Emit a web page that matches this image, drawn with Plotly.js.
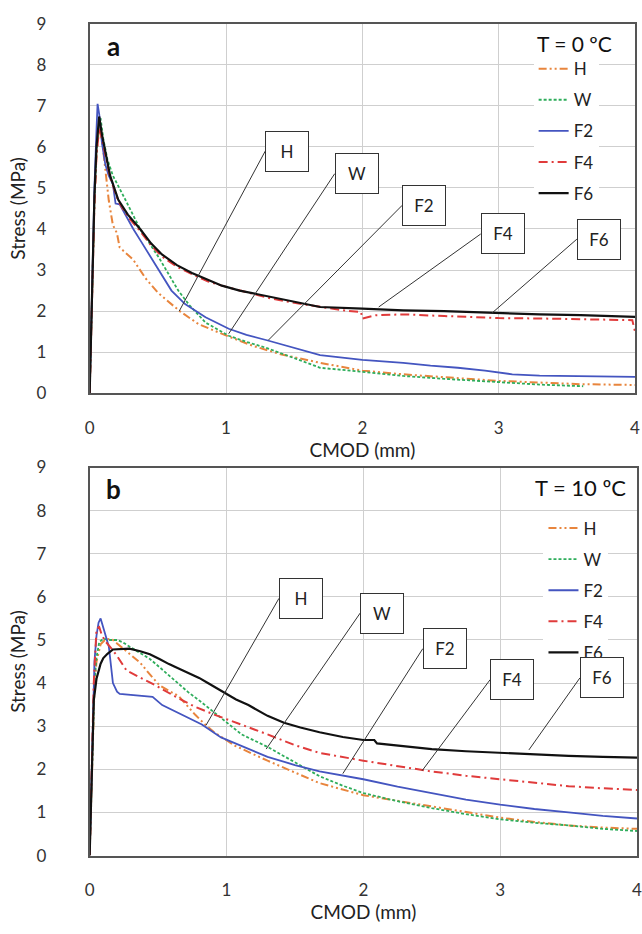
<!DOCTYPE html>
<html>
<head>
<meta charset="utf-8">
<script src="https://cdn.plot.ly/plotly-3.0.1.min.js"></script>
<style>html,body{margin:0;padding:0;background:#fff;}#chart{width:642px;height:934px;}</style>
</head>
<body>
<div id="chart"></div>
<script>
// ---------- Data: panel a (T = 0 ºC) ----------
const aH_x  = [0,0.01,0.02,0.035,0.05,0.07,0.09,0.11,0.12,0.14,0.17,0.2,0.22,0.27,0.32,0.41,0.5,0.66,0.8,1.02,1.2,1.4,1.69,2.0,2.3,2.6,3.0,3.3,3.6,4.0];
const aH_y  = [0,1.5,3.0,4.7,5.8,6.5,6.2,5.6,5.2,4.7,4.1,3.9,3.55,3.4,3.25,2.8,2.45,2.0,1.68,1.38,1.15,0.95,0.74,0.55,0.46,0.39,0.3,0.26,0.22,0.2];
const aW_x  = [0,0.01,0.02,0.035,0.05,0.07,0.08,0.1,0.13,0.17,0.25,0.37,0.51,0.58,0.65,0.73,0.85,1.02,1.15,1.3,1.5,1.69,2.0,2.3,2.6,3.0,3.3,3.62];
const aW_y  = [0,1.5,3.0,4.7,5.9,6.6,6.7,6.2,5.7,5.3,4.79,4.0,3.29,2.9,2.5,2.15,1.72,1.4,1.25,1.1,0.85,0.62,0.52,0.42,0.35,0.26,0.21,0.17];
const aF2_x = [0,0.01,0.02,0.035,0.05,0.058,0.07,0.09,0.115,0.14,0.17,0.19,0.22,0.26,0.32,0.38,0.44,0.53,0.6,0.7,0.85,1.02,1.15,1.3,1.5,1.69,2.0,2.3,2.5,2.7,2.9,3.0,3.1,3.3,3.5,3.8,4.0];
const aF2_y = [0,1.6,3.1,5.0,6.4,7.05,6.8,6.1,5.57,5.3,5.1,4.62,4.6,4.35,4.0,3.68,3.36,2.85,2.5,2.17,1.85,1.57,1.42,1.29,1.1,0.93,0.81,0.74,0.67,0.62,0.55,0.5,0.46,0.43,0.42,0.41,0.4];
const aF4_x = [0,0.01,0.02,0.035,0.05,0.07,0.09,0.115,0.15,0.21,0.28,0.37,0.45,0.53,0.64,0.75,0.87,0.97,1.1,1.3,1.5,1.7,1.9,1.99,2.0,2.1,2.3,2.6,3.0,3.3,3.6,3.9,3.98,4.0];
const aF4_y = [0,1.4,2.9,4.6,5.8,6.45,6.2,5.8,5.25,4.68,4.3,3.95,3.6,3.33,3.08,2.9,2.72,2.62,2.5,2.33,2.2,2.1,2.0,1.98,1.82,1.9,1.92,1.88,1.83,1.82,1.8,1.78,1.78,1.5];
const aF6_x = [0,0.01,0.02,0.035,0.05,0.07,0.09,0.115,0.15,0.21,0.28,0.37,0.45,0.53,0.64,0.75,0.87,0.97,1.1,1.3,1.5,1.69,2.0,2.3,2.6,3.0,3.3,3.6,4.0];
const aF6_y = [0,1.5,3.0,4.8,6.0,6.74,6.3,5.86,5.3,4.71,4.35,4.0,3.65,3.38,3.12,2.93,2.75,2.62,2.5,2.36,2.22,2.1,2.06,2.02,2.0,1.95,1.92,1.9,1.86];

// ---------- Data: panel b (T = 10 ºC) ----------
const bH_x  = [0,0.01,0.02,0.035,0.05,0.08,0.12,0.17,0.2,0.28,0.37,0.44,0.51,0.58,0.65,0.77,0.85,0.91,1.06,1.3,1.5,1.68,2.0,2.25,2.5,2.75,3.0,3.25,3.5,3.75,4.0];
const bH_y  = [0,1.3,2.6,3.9,4.5,4.9,5.03,5.0,4.92,4.7,4.47,4.2,3.95,3.82,3.7,3.27,3.02,2.86,2.55,2.2,1.92,1.68,1.4,1.27,1.15,1.01,0.88,0.78,0.7,0.65,0.62];
const bW_x  = [0,0.01,0.02,0.035,0.05,0.07,0.1,0.15,0.2,0.24,0.29,0.36,0.44,0.51,0.58,0.65,0.72,0.8,0.87,0.99,1.11,1.3,1.5,1.68,1.85,2.0,2.25,2.5,2.75,3.0,3.25,3.5,3.75,4.0];
const bW_y  = [0,1.3,2.6,4.0,4.6,4.95,5.03,5.0,5.0,4.95,4.85,4.72,4.56,4.37,4.17,3.98,3.79,3.6,3.42,3.1,2.81,2.52,2.16,1.84,1.62,1.45,1.26,1.1,0.96,0.84,0.76,0.7,0.62,0.57];
const bF2_x = [0,0.01,0.02,0.035,0.05,0.065,0.08,0.1,0.12,0.14,0.17,0.2,0.22,0.32,0.41,0.46,0.53,0.6,0.68,0.82,0.96,1.1,1.3,1.5,1.68,2.0,2.25,2.5,2.75,3.0,3.25,3.5,3.75,4.0];
const bF2_y = [0,1.5,3.0,4.5,5.1,5.4,5.5,5.3,5.05,4.85,4.0,3.8,3.75,3.72,3.7,3.68,3.49,3.38,3.27,3.04,2.74,2.55,2.29,2.1,1.95,1.77,1.6,1.45,1.3,1.18,1.08,1.0,0.92,0.86];
const bF4_x = [0,0.01,0.02,0.03,0.05,0.07,0.09,0.12,0.16,0.2,0.27,0.37,0.48,0.63,0.77,0.91,1.11,1.3,1.5,1.68,2.0,2.25,2.5,2.75,3.0,3.25,3.5,3.75,4.0];
const bF4_y = [0,1.4,2.8,4.0,5.26,5.3,5.1,4.95,4.8,4.63,4.29,4.13,3.95,3.68,3.45,3.27,3.04,2.81,2.56,2.38,2.2,2.07,1.95,1.85,1.77,1.69,1.61,1.56,1.52];
const bF6_x = [0,0.01,0.02,0.03,0.05,0.08,0.1,0.13,0.17,0.22,0.29,0.37,0.44,0.51,0.58,0.65,0.72,0.8,0.87,0.93,0.99,1.07,1.16,1.3,1.42,1.54,1.68,1.85,2.0,2.08,2.1,2.3,2.5,2.75,3.0,3.25,3.5,3.75,4.0];
const bF6_y = [0,1.2,2.6,3.6,4.1,4.45,4.58,4.68,4.78,4.79,4.8,4.74,4.67,4.56,4.44,4.34,4.24,4.12,3.99,3.88,3.76,3.62,3.49,3.24,3.08,2.97,2.86,2.75,2.68,2.68,2.6,2.53,2.47,2.42,2.38,2.34,2.31,2.29,2.27];

const seriesNames = ["H","W","F2","F4","F6"];
const yTicks = [0,1,2,3,4,5,6,7,8,9];
const xTicks = [0,1,2,3,4];
const panelLabels = ["a","b"];
const tempLabels = ["T = 0 ºC","T = 10 ºC"];
const axisTitleX = "CMOD (mm)";
const axisTitleY = "Stress (MPa)";
// callout tips [x, y] on curves
const aTips = [[0.657,2.0],[1.02,1.45],[1.31,1.29],[2.12,2.1],[2.95,1.95]];
const bTips = [[0.85,3.02],[1.29,2.47],[1.85,1.9],[2.43,1.97],[3.21,2.45]];

// ---------- Styles ----------
const styles = {
  H:  {color:"#E8853D", dash:"8px,3px,2px,3px,2px,3px", width:2},
  W:  {color:"#2EAD5B", dash:"3px,2px", width:1.8},
  F2: {color:"#4455C0", dash:"solid", width:1.8},
  F4: {color:"#E03B3B", dash:"9px,4px,2px,4px", width:2},
  F6: {color:"#111111", dash:"solid", width:2.2}
};
const FONT = "Lato, 'Open Sans', sans-serif";

const aData = {H:[aH_x,aH_y], W:[aW_x,aW_y], F2:[aF2_x,aF2_y], F4:[aF4_x,aF4_y], F6:[aF6_x,aF6_y]};
const bData = {H:[bH_x,bH_y], W:[bW_x,bW_y], F2:[bF2_x,bF2_y], F4:[bF4_x,bF4_y], F6:[bF6_x,bF6_y]};

const traces = [];
seriesNames.forEach(n => {
  traces.push({x:aData[n][0], y:aData[n][1], type:"scatter", mode:"lines", name:n,
    line:{color:styles[n].color, dash:styles[n].dash, width:styles[n].width},
    xaxis:"x", yaxis:"y", legend:"legend", legendgroup:"a"+n});
});
seriesNames.forEach(n => {
  traces.push({x:bData[n][0], y:bData[n][1], type:"scatter", mode:"lines", name:n,
    line:{color:styles[n].color, dash:styles[n].dash, width:styles[n].width},
    xaxis:"x2", yaxis:"y2", legend:"legend2", legendgroup:"b"+n});
});

// callout offsets (pixels from tip to box left-middle)
const aOff = [[86,-160],[106,-160],[134,-135],[102,-73],[85,-74]];
const bOff = [[73,-127],[94,-136],[80,-125],[68,-91],[51,-72]];

const annotations = [];
function callouts(tips, offs, xr, yr){
  seriesNames.forEach((n,i)=>{
    annotations.push({x:tips[i][0], y:tips[i][1], xref:xr, yref:yr, text:n,
      showarrow:true, arrowhead:0, arrowwidth:1, arrowcolor:"#333",
      ax:offs[i][0], ay:offs[i][1], xanchor:"left", yanchor:"middle",
      bgcolor:"#fff", bordercolor:"#333", borderwidth:1, borderpad:1,
      width:40, height:37, font:{family:FONT, size:17, color:"#222"}});
  });
}
callouts(aTips, aOff, "x", "y");
callouts(bTips, bOff, "x2", "y2");

annotations.push({xref:"paper", yref:"paper", x:110/642, y:(934-36)/934, xanchor:"center", yanchor:"middle",
  text:"<b>"+panelLabels[0]+"</b>", showarrow:false, font:{family:FONT, size:26, color:"#111"}});
annotations.push({xref:"paper", yref:"paper", x:110/642, y:(934-489)/934, xanchor:"center", yanchor:"middle",
  text:"<b>"+panelLabels[1]+"</b>", showarrow:false, font:{family:FONT, size:26, color:"#111"}});
annotations.push({xref:"paper", yref:"paper", x:579/642, y:(934-33)/934, xanchor:"center", yanchor:"middle",
  text:tempLabels[0], showarrow:false, font:{family:FONT, size:21, color:"#111"}});
annotations.push({xref:"paper", yref:"paper", x:585/642, y:(934-487)/934, xanchor:"center", yanchor:"middle",
  text:tempLabels[1], showarrow:false, font:{family:FONT, size:22, color:"#111"}});

function xax(domain, range){
  return {domain:domain, range:range, tickvals:xTicks, ticktext:xTicks.map(String), showgrid:true,
    gridcolor:"#cfcfcf", gridwidth:1, zeroline:false, showline:true, linecolor:"#555", linewidth:2,
    mirror:true, ticks:"", ticklabelstandoff:18, ticklabeloverflow:"allow",
    tickfont:{family:FONT, size:17, color:"#333"},
    title:{text:axisTitleX, font:{family:FONT, size:19, color:"#222"}, standoff:0}, automargin:true, fixedrange:true};
}
function yax(domain, anchor){
  return {domain:domain, range:[0,9], tickvals:yTicks, ticktext:yTicks.map(String), showgrid:true,
    gridcolor:"#cfcfcf", gridwidth:1, zeroline:false, showline:true, linecolor:"#555", linewidth:2,
    mirror:true, ticks:"", ticklabelstandoff:38, tickfont:{family:FONT, size:17, color:"#333"},
    title:{text:axisTitleY, font:{family:FONT, size:19, color:"#222"}, standoff:6}, automargin:true,
    anchor:anchor, fixedrange:true};
}

const layout = {
  width:642, height:934,
  margin:{l:0, r:0, t:0, b:0},
  paper_bgcolor:"#fff", plot_bgcolor:"#fff",
  showlegend:true,
  xaxis: Object.assign(xax([86/642, 640/642],[0,4]), {anchor:"y"}),
  yaxis: yax([(934-391)/934, (934-13)/934], "x"),
  xaxis2: Object.assign(xax([86/642, 1],[0,4]), {anchor:"y2"}),
  yaxis2: yax([(934-864)/934, (934-467)/934], "x2"),
  legend:{x:537/642, y:(934-41)/934, xanchor:"left", yanchor:"top", bgcolor:"#fff", borderwidth:0,
    font:{family:FONT, size:17, color:"#222"}, tracegroupgap:6, itemwidth:30},
  legend2:{x:547/642, y:(934-511)/934, xanchor:"left", yanchor:"top", bgcolor:"#fff", borderwidth:0,
    font:{family:FONT, size:17, color:"#222"}, tracegroupgap:6, itemwidth:30},
  annotations:annotations
};

Plotly.newPlot("chart", traces, layout, {displayModeBar:false, staticPlot:true});
</script>
</body>
</html>
